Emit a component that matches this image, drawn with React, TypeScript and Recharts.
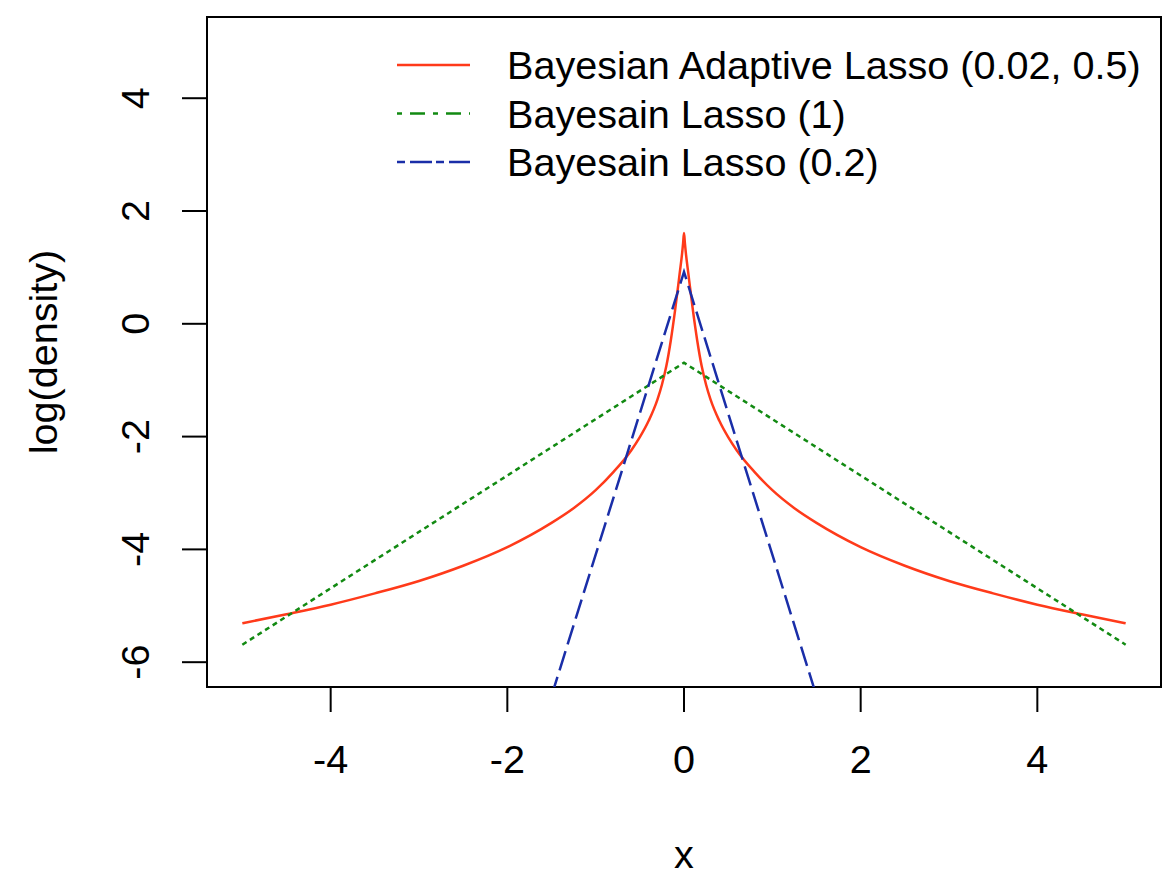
import React from 'react';
import { LineChart, Line, XAxis, YAxis, ReferenceArea, Legend } from 'recharts';

// x grid and log-density of the adaptive lasso prior
const adaptiveX = [
  -5, -4.5, -4, -3.5, -3, -2.5, -2, -1.5, -1.25, -1, -0.8, -0.6, -0.5, -0.4, -0.3, -0.25, -0.2, -0.15, -0.1, -0.05, -0.02, -0.01, 0,
  0.01, 0.02, 0.05, 0.1, 0.15, 0.2, 0.25, 0.3, 0.4, 0.5, 0.6, 0.8, 1, 1.25, 1.5, 2, 2.5, 3, 3.5, 4, 4.5, 5,
];
const adaptiveY = [
  -5.31, -5.15, -4.98, -4.78, -4.56, -4.29, -3.96, -3.53, -3.27, -2.95, -2.63, -2.25, -2.01, -1.72, -1.34, -1.08, -0.75, -0.3, 0.25, 0.88, 1.27, 1.43, 1.61,
  1.43, 1.27, 0.88, 0.25, -0.3, -0.75, -1.08, -1.34, -1.72, -2.01, -2.25, -2.63, -2.95, -3.27, -3.53, -3.96, -4.29, -4.56, -4.78, -4.98, -5.15, -5.31,
];

// Bayesian lasso (1): straight lines in log scale
const lasso1X = [-5, 0, 5];
const lasso1Y = [-5.69, -0.69, -5.69];

// Bayesian lasso (0.2): steep, runs off the bottom of the plot
const lasso02X = [-1.5, 0, 1.5];
const lasso02Y = [-6.6, 0.92, -6.6];

const xTicks = [-4, -2, 0, 2, 4];
const yTicks = [-6, -4, -2, 0, 2, 4];

const seriesNames = ['Bayesian Adaptive Lasso (0.02, 0.5)', 'Bayesain Lasso (1)', 'Bayesain Lasso (0.2)'];

const toPoints = (xs: number[], ys: number[]) => xs.map((x, i) => ({ x, y: ys[i] }));

const FONT = '"Liberation Sans", Arial, Helvetica, sans-serif';
const FS = 39.6;
const RED = '#ff3a1a';
const GREEN = '#128a12';
const BLUE = '#1a2ea8';

const legendStyles = [
  { color: RED, dash: undefined },
  { color: GREEN, dash: '5 8 15 8' },
  { color: BLUE, dash: '8 5 22 4' },
];

const renderLegend = () => (
  <svg width={780} height={150} style={{ display: 'block' }}>
    {seriesNames.map((name, i) => {
      const y = 25 + i * 48.5;
      return (
        <g key={name}>
          <line x1={7} x2={80} y1={y} y2={y} stroke={legendStyles[i].color} strokeWidth={2.5} strokeDasharray={legendStyles[i].dash} />
          <text x={117} y={y + 14} fontFamily={FONT} fontSize={FS} fill="#000">
            {name}
          </text>
        </g>
      );
    })}
  </svg>
);

const YTick = (props: any) => {
  const { y, payload } = props;
  const bx = 149;
  return (
    <text x={bx} y={y} transform={`rotate(-90 ${bx} ${y})`} textAnchor="middle" fontFamily={FONT} fontSize={FS} fill="#000">
      {payload.value}
    </text>
  );
};

const YLabel = () => (
  <text x={57} y={352} transform="rotate(-90 57 352)" textAnchor="middle" fontFamily={FONT} fontSize={FS} fill="#000">
    log(density)
  </text>
);

export default function App() {
  const adaptive = toPoints(adaptiveX, adaptiveY);
  const lasso1 = toPoints(lasso1X, lasso1Y);
  const lasso02 = toPoints(lasso02X, lasso02Y);

  return (
    <div style={{ position: 'absolute', left: 0, top: 0, width: 1162, height: 882, background: '#fff' }}>
      <LineChart width={1162} height={882} margin={{ top: 17, right: 1, left: 0, bottom: 0 }}>
        <XAxis
          type="number"
          dataKey="x"
          domain={[-5.4, 5.4]}
          ticks={xTicks}
          allowDataOverflow
          height={195}
          axisLine={false}
          tickLine={{ stroke: '#000', strokeWidth: 2 }}
          tickSize={25}
          tickMargin={33}
          tick={{ fill: '#000', fontSize: FS, fontFamily: FONT }}
          label={{ value: 'x', position: 'insideBottom', offset: 14, fill: '#000', fontSize: FS, fontFamily: FONT }}
        />
        <YAxis
          type="number"
          dataKey="y"
          domain={[-6.44, 5.44]}
          ticks={yTicks}
          allowDataOverflow
          width={207}
          axisLine={false}
          tickLine={{ stroke: '#000', strokeWidth: 2 }}
          tickSize={25}
          tick={<YTick />}
          label={<YLabel />}
        />
        <ReferenceArea x1={-5.4} x2={5.4} y1={-6.44} y2={5.44} fill="none" stroke="#000" strokeWidth={2} ifOverflow="visible" />
        <Legend layout="horizontal" verticalAlign="middle" align="center" content={renderLegend} wrapperStyle={{ left: 390, top: 40, width: 780, height: 150 }} />
        <Line data={adaptive} dataKey="y" name={seriesNames[0]} type="monotone" stroke={RED} strokeWidth={2.5} dot={false} isAnimationActive={false} />
        <Line data={lasso1} dataKey="y" name={seriesNames[1]} type="linear" stroke={GREEN} strokeWidth={2.5} strokeDasharray="5 4" dot={false} isAnimationActive={false} />
        <Line data={lasso02} dataKey="y" name={seriesNames[2]} type="linear" stroke={BLUE} strokeWidth={2.5} strokeDasharray="20 7" dot={false} isAnimationActive={false} />
      </LineChart>
    </div>
  );
}
